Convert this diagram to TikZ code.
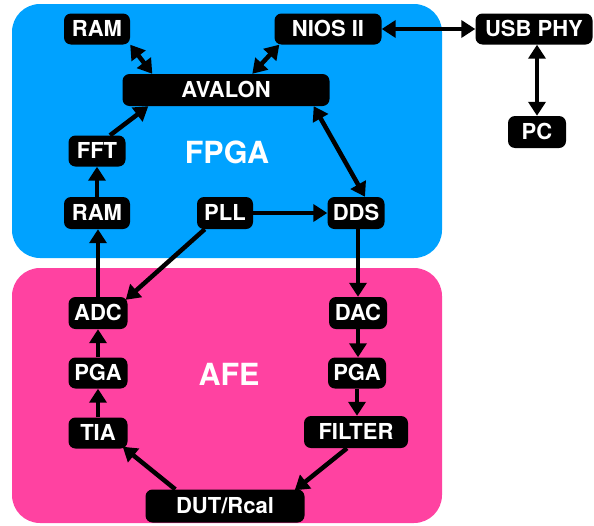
\documentclass[tikz,border=0pt]{standalone}
\usepackage{fontspec}
\setmainfont{TeX Gyre Heros}
\usetikzlibrary{arrows.meta}
\definecolor{fpgablue}{RGB}{0,162,255}
\definecolor{afepink}{RGB}{255,66,161}
\begin{document}
\begin{tikzpicture}[x=1pt,y=-1pt,
  blk/.style={fill=black, rounded corners=7pt, text=white,
    font=\bfseries\fontsize{22}{25}\selectfont, text height=15.8pt, text depth=0pt,
    minimum height=31pt, inner sep=0pt},
  tip/.tip={Triangle[length=14pt,width=17pt]},
  con/.style={line width=4.5pt, -tip},
  bicon/.style={line width=4.5pt, tip-tip},
  region/.style={rounded corners=28pt},
  title/.style={text=white, font=\bfseries\fontsize{30.5}{34}\selectfont}]
\useasboundingbox (0,0) rectangle (594,525);
% regions
\fill[fpgablue, region] (12,4) rectangle (442,258);
\fill[afepink, region] (12,268) rectangle (442,523);
\node[title] (fpgalbl) at (227,152) {FPGA};
\node[title] (afelbl) at (229,374) {AFE};
% blocks
\node[blk, minimum width=66pt] (ram1) at (97,29) {RAM};
\node[blk, minimum width=107pt] (nios) at (328,29) {NIOS II};
\node[blk, minimum width=117pt] (usb) at (534,29) {USB PHY};
\node[blk, minimum width=207pt, minimum height=32pt] (avalon) at (226,90) {AVALON};
\node[blk, minimum width=58pt, minimum height=32pt] (pc) at (537,132) {PC};
\node[blk, minimum width=57pt] (fft) at (97,151) {FFT};
\node[blk, minimum width=66pt, minimum height=32pt] (ram2) at (97,213) {RAM};
\node[blk, minimum width=56pt, minimum height=32pt] (pll) at (225,213) {PLL};
\node[blk, minimum width=57pt, minimum height=32pt] (dds) at (356,213) {DDS};
\node[blk, minimum width=59pt, minimum height=32pt] (adc) at (98,313) {ADC};
\node[blk, minimum width=59pt] (pgal) at (98,373) {PGA};
\node[blk, minimum width=59pt] (tia) at (98,433) {TIA};
\node[blk, minimum width=58pt, minimum height=32pt] (dac) at (358,313) {DAC};
\node[blk, minimum width=58pt] (pgar) at (357,373) {PGA};
\node[blk, minimum width=104pt, minimum height=32pt] (filter) at (356,432) {FILTER};
\node[blk, minimum width=159pt, minimum height=33pt] (dut) at (225,506) {DUT/Rcal};
% connectors
\draw[bicon] (ram1.south east) -- ([xshift=30pt]avalon.north west);
\draw[bicon] ([xshift=5pt]nios.south west) -- ([xshift=130pt]avalon.north west);
\draw[bicon] (nios.east) -- (usb.west);
\draw[bicon] (pc.north |- usb.south) -- (pc.north);
\draw[con] ([xshift=13pt]fft.north) -- ([xshift=26pt]avalon.south west);
\draw[con] (ram2.north) -- (fft.south);
\draw[con] (adc.north) -- (adc.north |- ram2.south);
\draw[con] (pll.east) -- (dds.west);
\draw[con] ([xshift=8pt]pll.south west) -- ([xshift=-2pt,yshift=-3pt]adc.north east);
\draw[bicon] ([xshift=-16pt]avalon.south east) -- ([xshift=9pt]dds.north);
\draw[con] (dac.north |- dds.south) -- (dac.north);
\draw[con] (dac.south) -- (dac.south |- pgar.north);
\draw[con] (pgar.south) -- (pgar.south |- filter.north);
\draw[con] ([xshift=-9pt]filter.south) -- ([xshift=-10pt,yshift=-1pt]dut.north east);
\draw[con] ([xshift=30pt]dut.north west) -- ([xshift=-5pt,yshift=2pt]tia.south east);
\draw[con] (tia.north) -- (pgal.south);
\draw[con] (pgal.north) -- (adc.south);
\end{tikzpicture}
\end{document}
